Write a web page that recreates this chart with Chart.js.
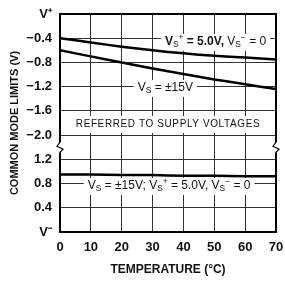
<!DOCTYPE html>
<html>
<head>
<meta charset="utf-8">
<script src="https://cdn.jsdelivr.net/npm/chart.js@4"></script>
<style>
  html, body { margin: 0; padding: 0; background: #fff; }
  #wrap { width: 285px; height: 282px; }
</style>
</head>
<body>
<div id="wrap"><canvas id="myChart" width="285" height="282"></canvas></div>
<script>
const temps = [0, 10, 20, 30, 40, 50, 60, 70];
// upper limits, referred to V+
const vs5 = [-0.40, -0.47, -0.54, -0.60, -0.65, -0.69, -0.72, -0.75];
const vs15 = [-0.60, -0.70, -0.80, -0.90, -0.99, -1.08, -1.16, -1.24];
// lower limit, referred to V-
const lower = [0.95, 0.95, 0.94, 0.94, 0.93, 0.93, 0.92, 0.92];
const yTickLabels = ["V\u207B", "0.4", "0.8", "1.2", "\u22122.0", "\u22121.6", "\u22121.2", "\u22120.8", "\u22120.4", "V\u207A"];

// broken axis: 0..3 is V- side, 4..9 is V+ side
const toPos = (v) => (v < 0 ? 9 + v / 0.4 : v / 0.4);
const pts = (arr) => arr.map((v, i) => ({ x: temps[i], y: toPos(v) }));

const FONT = '"Liberation Sans Narrow", "Liberation Sans", Arial, sans-serif';

// draw "V", subscript "S", superscript sign etc.
function richText(ctx, parts, x, y, size) {
  let cx = x;
  parts.forEach((p) => {
    const s = p.sub || p.sup ? size * 0.7 : size;
    ctx.font = (p.bold ? "bold " : "") + s + "px " + FONT;
    const dy = p.sub ? size * 0.25 : p.sup ? -size * 0.35 : 0;
    ctx.fillText(p.t, cx, y + dy);
    cx += ctx.measureText(p.t).width;
  });
  return cx - x;
}
function richWidth(ctx, parts, size) {
  let w = 0;
  parts.forEach((p) => {
    const s = p.sub || p.sup ? size * 0.7 : size;
    ctx.font = (p.bold ? "bold " : "") + s + "px " + FONT;
    w += ctx.measureText(p.t).width;
  });
  return w;
}

const notes = [
  { x: 34, y: 7.85, parts: [
    { t: "V", bold: true }, { t: "S", sub: true }, { t: "+", sup: true },
    { t: " = 5.0V, ", bold: true }, { t: "V" }, { t: "S", sub: true }, { t: "\u2212", sup: true }, { t: " = 0" }] },
  { x: 25.2, y: 5.95, parts: [{ t: "V" }, { t: "S", sub: true }, { t: " = \u00B115V" }] },
  { x: 9, y: 1.9, parts: [
    { t: "V" }, { t: "S", sub: true }, { t: " = \u00B115V; V" }, { t: "S", sub: true }, { t: "+", sup: true },
    { t: " = 5.0V, V" }, { t: "S", sub: true }, { t: "\u2212", sup: true }, { t: " = 0" }] }
];

const annotate = {
  id: "annotate",
  beforeDatasetsDraw(chart) {
    const ctx = chart.ctx;
    const xs = chart.scales.x, ys = chart.scales.y;
    ctx.save();
    ctx.textBaseline = "middle";
    ctx.textAlign = "left";
    notes.forEach((n) => {
      const px = xs.getPixelForValue(n.x), py = ys.getPixelForValue(n.y);
      const w = richWidth(ctx, n.parts, 12);
      ctx.fillStyle = "#fff";
      ctx.fillRect(px - 4, py - 8, w + 8, 17);
      ctx.fillStyle = "#111";
      richText(ctx, n.parts, px, py, 12);
    });
    // referred-to note
    const rx = xs.getPixelForValue(35), ry = ys.getPixelForValue(4.46);
    ctx.font = "10px " + FONT;
    ctx.letterSpacing = "0.6px";
    ctx.textAlign = "center";
    const label = "REFERRED TO SUPPLY VOLTAGES";
    const rw = ctx.measureText(label).width;
    ctx.fillStyle = "#fff";
    ctx.fillRect(rx - rw / 2 - 4, ry - 8, rw + 8, 17);
    ctx.fillStyle = "#111";
    ctx.fillText(label, rx, ry);
    ctx.restore();
  },
  afterDraw(chart) {
    const ctx = chart.ctx;
    const a = chart.chartArea;
    const ys = chart.scales.y;
    ctx.save();
    ctx.strokeStyle = "#000";
    ctx.lineWidth = 2;
    ctx.strokeRect(a.left, a.top, a.right - a.left, a.bottom - a.top);
    // axis break marks between -2.0 and 1.2
    const yb = ys.getPixelForValue(3.5);
    [a.left, a.right].forEach((x) => {
      ctx.fillStyle = "#fff";
      ctx.fillRect(x - 2, yb - 5, 4, 10);
      ctx.lineWidth = 1.2;
      ctx.beginPath();
      ctx.moveTo(x, yb - 5);
      ctx.lineTo(x - 3, yb - 1);
      ctx.lineTo(x + 3, yb + 2);
      ctx.lineTo(x, yb + 5);
      ctx.stroke();
    });
    ctx.restore();
  }
};

const ctx = document.getElementById("myChart").getContext("2d");
const myChart = new Chart(ctx, {
  type: "line",
  data: {
    datasets: [
      { data: pts(vs5), borderColor: "#000", borderWidth: 2.5 },
      { data: pts(vs15), borderColor: "#000", borderWidth: 2.5 },
      { data: pts(lower), borderColor: "#000", borderWidth: 2.5 }
    ]
  },
  options: {
    responsive: false,
    animation: false,
    layout: { padding: { top: 14, right: 9, left: 0, bottom: 0 } },
    elements: { point: { radius: 0 }, line: { tension: 0.3 } },
    plugins: { legend: { display: false }, tooltip: { enabled: false } },
    scales: {
      x: {
        type: "linear",
        min: 0,
        max: 70,
        afterFit: (s) => { s.height = 50; s.paddingLeft = 0; s.paddingRight = 0; },
        grid: { color: "#333", lineWidth: 1, drawTicks: false },
        border: { display: false },
        ticks: { stepSize: 10, padding: 8, color: "#111", font: { family: FONT, size: 13, weight: "bold" } },
        title: { display: true, text: "TEMPERATURE (\u00B0C)", color: "#111", padding: { top: 0, bottom: 5 },
          font: { family: FONT, size: 12, weight: "bold" } }
      },
      y: {
        type: "linear",
        min: 0,
        max: 9,
        afterFit: (s) => { s.width = 60; s.paddingTop = 0; s.paddingBottom = 0; },
        grid: { color: "#333", lineWidth: 1, drawTicks: false },
        border: { display: false },
        ticks: { stepSize: 1, padding: 8, color: "#111", font: { family: FONT, size: 13, weight: "bold" },
          callback: (v) => yTickLabels[v] },
        title: { display: true, text: "COMMON MODE LIMITS (V)", color: "#111", padding: { top: 8, bottom: 0 },
          font: { family: "Liberation Sans, Arial, sans-serif", size: 11, weight: "bold" } }
      }
    }
  },
  plugins: [annotate]
});
</script>
</body>
</html>
